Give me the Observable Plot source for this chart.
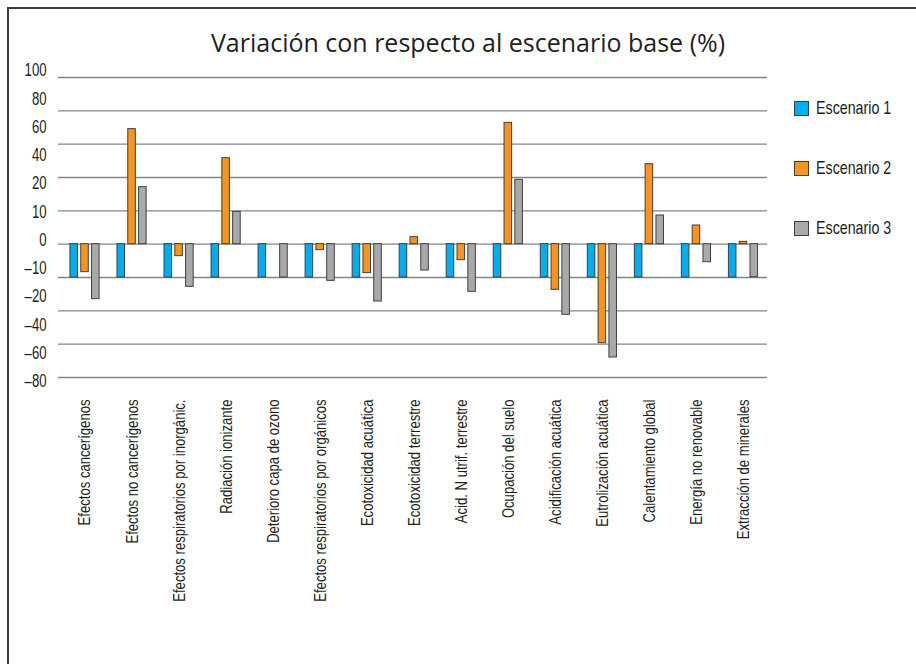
<!DOCTYPE html>
<html>
<head>
<meta charset="utf-8">
<script src="https://cdn.jsdelivr.net/npm/d3@7"></script>
<script src="https://cdn.jsdelivr.net/npm/@observablehq/plot@0.6"></script>
<style>
  html, body { margin: 0; padding: 0; background: #fff; }
  #wrap { position: relative; width: 916px; height: 664px; overflow: hidden; background: #fff; }
  #frame { position: absolute; left: 7px; top: 7px; right: -10px; bottom: -10px;
           border-top: 2px solid #3c3c3c; border-left: 2px solid #3c3c3c; }
  #title { position: absolute; left: 0; width: 936px; top: 25px; text-align: center;
           font-family: "Open Sans", sans-serif; font-size: 25px; color: #231f20; }
  .layer { position: absolute; left: 0; top: 0; }
  #legend { position: absolute; left: 794px; top: 0; font-family: "Liberation Sans", Arial, sans-serif;
            font-size: 19px; color: #231f20; }
  .item { position: absolute; left: 0; white-space: nowrap; display: flex; align-items: center; }
  .sw { width: 15px; height: 15px; border: 1px solid #404040; margin-right: 7px; box-sizing: border-box; flex: none; }
  .lt { display: inline-block; transform: scaleX(0.75); transform-origin: left center; }
</style>
</head>
<body>
<div id="wrap">
  <div id="frame"></div>
  <div id="title">Variación con respecto al escenario base (%)</div>
  <div id="legend"></div>
</div>
<script>
// ---- data ----
const categories = [
  "Efectos cancerígenos",
  "Efectos no cancerígenos",
  "Efectos respiratorios por inorgánic.",
  "Radiación ionizante",
  "Deterioro capa de ozono",
  "Efectos respiratorios por orgánicos",
  "Ecotoxicidad acuática",
  "Ecotoxicidad terrestre",
  "Acid. N utrif. terrestre",
  "Ocupación del suelo",
  "Acidificación acuática",
  "Eutrolización acuática",
  "Calentamiento global",
  "Energía no renovable",
  "Extracción de minerales"
];
const seriesNames = ["Escenario 1", "Escenario 2", "Escenario 3"];
const escenario1 = [-10, -10, -10, -10, -10, -10, -10, -10, -10, -10, -10, -10, -10, -10, -10];
const escenario2 = [-8.4, 34.5, -3.6, 25.8, 0, -1.8, -8.7, 2.1, -4.8, 36.4, -13.7, -29.7, 24.0, 5.6, 0.7];
const escenario3 = [-16.5, 17.1, -12.8, 9.7, -10, -11, -17.2, -7.9, -14.3, 19.3, -21.2, -34.0, 8.6, -5.4, -9.9];
const gridValues = [-40, -30, -20, -10, 0, 10, 20, 30, 40, 50];
const yTickLabels = ["100", "80", "60", "40", "20", "10", "0", "–10", "–20", "–40", "–60", "–80"];
const colors = ["#00aeef", "#f7941d", "#a7a9ac"];

const seriesValues = [escenario1, escenario2, escenario3];
const table = seriesNames.flatMap((s, si) =>
  categories.map((c, ci) => ({category: c, series: s, value: seriesValues[si][ci]})));

// ---- layout ----
const W = 916, H = 664;
const mLeft = 58, mRight = 149, mTop = 77, mBottom = 287;
const xRange = [61, 766.5];
const padInner = 0.38, padOuter = 0.19;
const band = d3.scaleBand().domain(categories).range(xRange)
  .paddingInner(padInner).paddingOuter(padOuter).bandwidth();
const subStep = band / 2.7;
const barW = subStep * 0.7;

const font = '"Liberation Sans", Arial, sans-serif';

const main = Plot.plot({
  width: W, height: H,
  marginLeft: mLeft, marginRight: mRight, marginTop: mTop, marginBottom: mBottom,
  style: {fontFamily: font, fontSize: "17px", color: "#231f20", background: "transparent"},
  x: {domain: categories, range: xRange, paddingInner: padInner, paddingOuter: padOuter, round: false, label: null},
  y: {domain: [-40, 50], axis: null},
  color: {domain: seriesNames, range: colors},
  marks: [
    Plot.ruleY(gridValues, {stroke: "#858585", strokeWidth: 1.3}),
    ...seriesNames.map((s, i) => Plot.barY(table.filter(d => d.series === s), {
      x: "category", y: "value", fill: "series",
      stroke: "#404040", strokeWidth: 1,
      insetLeft: i * subStep, insetRight: band - (i * subStep + barW)
    })),
    Plot.axisX({tickRotate: -90, tickSize: 0, tickPadding: 22, label: null, fontSize: 17, fill: "#231f20"})
  ]
});
main.classList.add("layer");

const axis = Plot.plot({
  width: W, height: H,
  marginLeft: 47, marginRight: 0, marginTop: 0, marginBottom: 0,
  style: {fontFamily: font, fontSize: "18px", color: "#231f20", background: "transparent"},
  y: {type: "point", domain: yTickLabels, range: [70, 381], padding: 0, round: false, label: null},
  marks: [
    Plot.axisY({tickSize: 0, tickPadding: 1, label: null, fontSize: 18, fill: "#231f20"})
  ]
});
axis.classList.add("layer");

const wrap = document.getElementById("wrap");
wrap.appendChild(main);
wrap.appendChild(axis);

// condense axis text (reference uses a condensed typeface)
function condense(svg, k) {
  svg.querySelectorAll("text").forEach(t => {
    const L = t.getComputedTextLength();
    if (L > 0) {
      t.setAttribute("textLength", L * k);
      t.setAttribute("lengthAdjust", "spacingAndGlyphs");
    }
  });
}
condense(main, 0.77);
condense(axis, 0.73);

const legend = document.getElementById("legend");
const legendTops = [97, 157, 217];
seriesNames.forEach((s, i) => {
  const it = document.createElement("div");
  it.className = "item";
  it.style.top = legendTops[i] + "px";
  const sw = document.createElement("div");
  sw.className = "sw";
  sw.style.background = colors[i];
  const tx = document.createElement("span");
  tx.className = "lt";
  tx.textContent = s;
  it.appendChild(sw); it.appendChild(tx);
  legend.appendChild(it);
});
</script>
</body>
</html>
